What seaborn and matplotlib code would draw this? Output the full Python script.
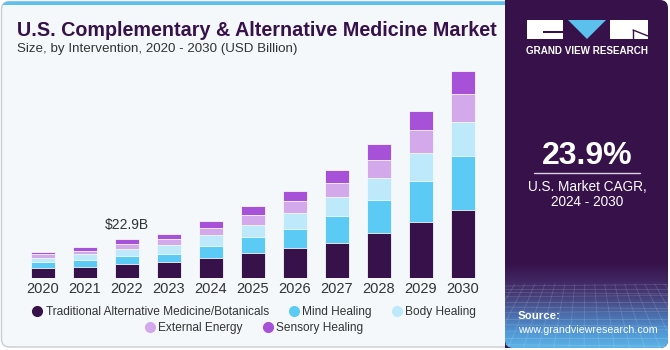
import numpy as np
import pandas as pd
import matplotlib
matplotlib.use("Agg")
import matplotlib.pyplot as plt
import seaborn as sns
from matplotlib.patches import FancyBboxPatch, Rectangle, Polygon
from matplotlib.lines import Line2D
from matplotlib.colors import LinearSegmentedColormap

# ---------------- data ----------------
years = ["2020", "2021", "2022", "2023", "2024", "2025", "2026", "2027", "2028", "2029", "2030"]
segments = ["Traditional Alternative Medicine/Botanicals", "Mind Healing", "Body Healing",
            "External Energy", "Sensory Healing"]
traditional = [5.8, 6.4, 7.9, 9.1, 11.7, 14.6, 17.3, 20.6, 26.1, 32.5, 39.5]
mind = [3.3, 4.1, 5.2, 5.0, 7.2, 9.1, 11.3, 15.4, 19.4, 24.3, 31.8]
body = [2.3, 3.3, 3.9, 5.0, 6.2, 7.0, 9.3, 11.1, 12.7, 16.0, 19.8]
external = [2.6, 2.2, 3.1, 3.5, 4.3, 6.1, 7.0, 8.5, 10.7, 13.2, 16.1]
sensory = [1.3, 2.3, 2.7, 3.3, 4.1, 5.0, 5.8, 7.4, 8.9, 11.3, 13.6]
colors = ["#37114A", "#5BCBF5", "#BDE9FA", "#D4A9EC", "#A651D8"]
annot_year = "2022"
annot_text = "$22.9B"
cagr = "23.9%"

W, H = 670, 350
sns.set_theme(style="white")
plt.rcParams["font.family"] = ["Liberation Sans", "DejaVu Sans"]

fig = plt.figure(figsize=(W / 100, H / 100), dpi=100)
fig.patch.set_facecolor("white")

# background axes in pixel coords (y downwards)
bg = fig.add_axes([0, 0, 1, 1], zorder=-5)
bg.set_xlim(0, W)
bg.set_ylim(H, 0)
bg.axis("off")

main_bg = FancyBboxPatch((1.5, 1.5), 520, 345.5, boxstyle="round,pad=0,rounding_size=8",
                         facecolor="#F4F8FB", edgecolor="#C9CDD2", linewidth=1.0)
bg.add_patch(main_bg)
strip = Rectangle((0, 0), 506, 5, facecolor="#5BC0EB", edgecolor="none")
bg.add_patch(strip)
strip.set_clip_path(main_bg)

panel = FancyBboxPatch((505, 0), 163, 348, boxstyle="round,pad=0,rounding_size=8",
                       facecolor="#37114A", edgecolor="none")
bg.add_patch(panel)
bg.add_patch(Rectangle((505, 0), 10, 348, facecolor="#37114A", edgecolor="none"))

# gradient at bottom of panel
cmap = LinearSegmentedColormap.from_list("g", ["#37114A", "#3F2560", "#46407A", "#4A6AA8", "#4F93D2", "#5CB4E6"])
grad = np.linspace(0, 1, 100).reshape(-1, 1)
im = bg.imshow(grad, extent=[505, 668, 348, 262], aspect="auto", cmap=cmap, zorder=1)
im.set_clip_path(panel)
# faint perspective grid
for i in range(14):
    yy = 286 + (i ** 1.3) * 2.6
    if yy < 348:
        ln = Line2D([505, 668], [yy, yy + (i % 3 - 1) * 1.5], color="white", alpha=0.15, lw=0.6, zorder=2)
        bg.add_line(ln)
for k in range(-14, 30):
    x0 = 505 + k * 8
    ln = Line2D([x0 + (x0 - 586) * 0.25, x0 + (x0 - 586) * 0.9], [284, 348], color="white", alpha=0.14, lw=0.6, zorder=2)
    ln.set_clip_path(panel)
    bg.add_line(ln)

# logo
bg.add_patch(Rectangle((527, 20), 36, 19, facecolor="white", edgecolor="none", zorder=3))
bg.add_patch(Rectangle((543, 31), 20, 2, facecolor="#37114A", edgecolor="none", zorder=4))
bg.add_patch(Polygon([[568, 20], [606, 20], [587, 39]], closed=True, facecolor="#5BC0EB", edgecolor="none", zorder=3))
bg.add_patch(Rectangle((610, 20), 38, 19, facecolor="white", edgecolor="none", zorder=3))
bg.add_line(Line2D([633, 648], [30, 36], color="#37114A", lw=1.0, zorder=4))
bg.add_line(Line2D([633, 633], [30, 39], color="#37114A", lw=1.0, zorder=4))
bg.text(587.5, 51, "GRAND VIEW RESEARCH", color="white", fontsize=7.1, fontweight="bold",
        ha="center", va="center", zorder=4)

bg.text(587, 156, cagr, color="white", fontsize=23, fontweight="bold", ha="center", va="center", zorder=4)
bg.add_line(Line2D([534, 640], [173, 173], color="#D9D2E0", lw=1.0, zorder=4))
bg.text(587, 187, "U.S. Market CAGR,", color="white", fontsize=9.8, ha="center", va="center", zorder=4)
bg.text(587, 202, "2024 - 2030", color="white", fontsize=9.8, ha="center", va="center", zorder=4)
bg.text(518, 316, "Source:", color="white", fontsize=8.2, fontweight="bold", ha="left", va="center", zorder=4)
bg.text(518, 330, "www.grandviewresearch.com", color="white", fontsize=7.7, ha="left", va="center", zorder=4)

# titles
bg.text(17, 30, "U.S. Complementary & Alternative Medicine Market", color="#37114A", fontsize=14.2,
        fontweight="heavy", ha="left", va="center")
bg.text(17, 49, "Size, by Intervention, 2020 - 2030 (USD Billion)", color="#333333", fontsize=9.6,
        ha="left", va="center")

# ---------------- bars ----------------
df = pd.DataFrame({"year": years, segments[0]: traditional, segments[1]: mind, segments[2]: body,
                   segments[3]: external, segments[4]: sensory})
cum = df[segments].cumsum(axis=1)

base_px = 278.0
axL, axW = 21.8, 462.0
axB = H - base_px
axH = 218.0
ax = fig.add_axes([axL / W, axB / H, axW / W, axH / H])
ax.set_facecolor("none")
for i in reversed(range(len(segments))):
    sns.barplot(x=df["year"], y=cum[segments[i]], color=colors[i], width=0.58, ax=ax,
                saturation=1, edgecolor="#F4F8FB", linewidth=0.6, zorder=2 + (len(segments) - i))
ax.set_xlim(-0.5, 10.5)
ax.set_ylim(0, axH * 0.5827)
sns.despine(ax=ax, left=True, bottom=True)
ax.set_yticks([])
ax.set_xlabel("")
ax.set_ylabel("")
ax.tick_params(axis="x", length=0, pad=3, labelsize=10.5, labelcolor="#333333")

ai = years.index(annot_year)
ax.annotate(annot_text, xy=(ai, cum[segments[-1]][ai]), xytext=(0, 10), textcoords="offset points",
            ha="center", va="center", fontsize=10, color="#333333")

# ---------------- legend ----------------
def handle(c):
    return Line2D([], [], marker="o", linestyle="none", markersize=7, markerfacecolor=c, markeredgecolor=c)

leg1 = fig.legend([handle(c) for c in colors[:3]], segments[:3], loc="center",
                  bbox_to_anchor=(253 / W, (H - 312) / H), ncol=3, frameon=False, fontsize=8.6,
                  handletextpad=0.1, columnspacing=1.5, handlelength=1.2, borderpad=0)
leg2 = fig.legend([handle(c) for c in colors[3:]], segments[3:], loc="center",
                  bbox_to_anchor=(253 / W, (H - 328) / H), ncol=2, frameon=False, fontsize=8.6,
                  handletextpad=0.1, columnspacing=1.5, handlelength=1.2, borderpad=0)
for lg in (leg1, leg2):
    for t in lg.get_texts():
        t.set_color("#333333")

fig.savefig("out.png", dpi=100, facecolor=fig.get_facecolor())
